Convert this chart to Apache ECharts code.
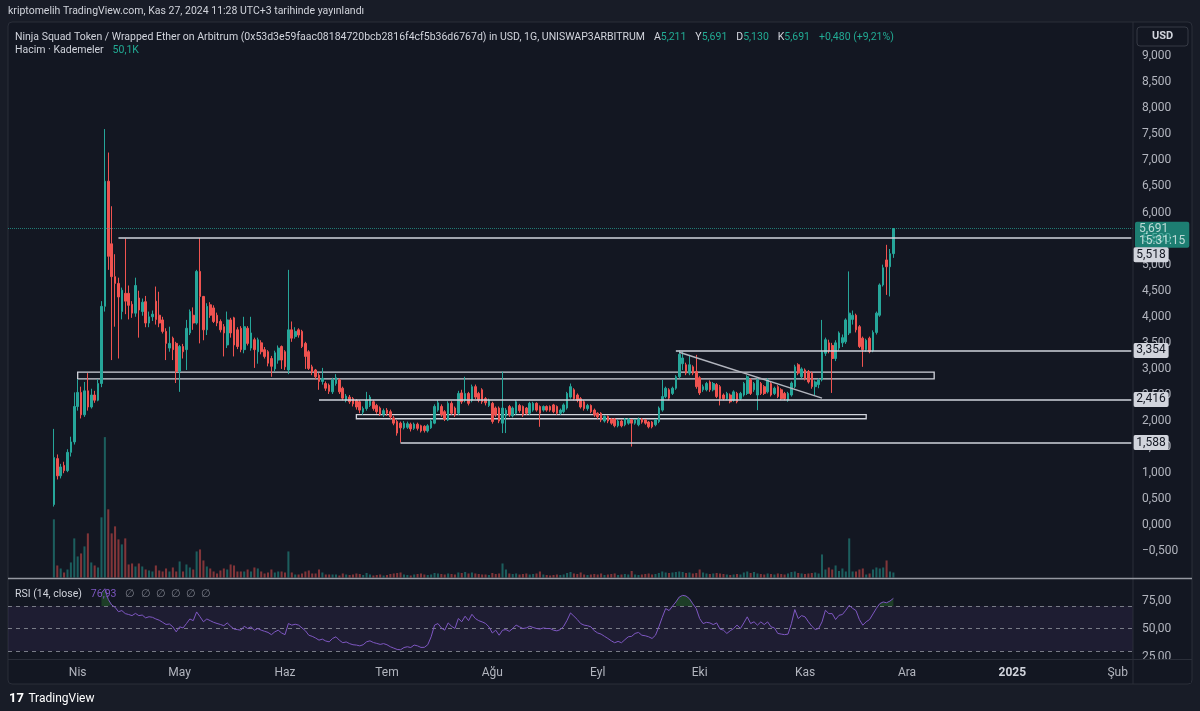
<!DOCTYPE html>
<html>
<head>
<meta charset="utf-8">
<title>NINJA / WETH</title>
<script src="https://cdn.jsdelivr.net/npm/echarts@6/dist/echarts.min.js"></script>
<style>
  html, body { margin: 0; padding: 0; background: #181c27; }
  #chart { width: 1200px; height: 711px; }
</style>
</head>
<body>
<div id="chart"></div>
<script>
// gün ekseni: 12 Mart 2024'ten itibaren 331 gün
const firstDay = Date.UTC(2024, 2, 12);
const dayCount = 331;
const monthNames = ['Oca', 'Şub', 'Mar', 'Nis', 'May', 'Haz', 'Tem', 'Ağu', 'Eyl', 'Eki', 'Kas', 'Ara'];

// mumlar [açılış, kapanış, düşük, yüksek], 25 Mart 2024'ten başlar
const candleStartDate = '2024-03-25';
const candles = [
  [0.40,1.30,0.36,1.85],[1.28,0.95,0.88,1.36],[0.95,1.12,0.90,1.18],[1.15,1.05,1.00,1.22],[1.05,1.40,1.02,1.46],
  [1.40,1.60,1.32,1.70],[1.60,2.28,1.55,2.55],[2.28,2.55,2.20,2.80],[2.55,2.12,2.05,2.66],[2.12,2.58,2.08,2.75],
  [2.58,2.27,2.20,2.92],[2.27,2.50,2.24,2.62],[2.50,2.40,2.35,2.58],[2.40,2.72,2.38,2.80],[2.72,4.20,2.65,4.30],
  [4.20,6.60,4.10,7.60],[6.60,5.16,4.90,7.15],[5.40,4.77,3.17,6.12],[4.77,4.64,3.81,5.20],[4.64,4.38,3.20,4.75],
  [4.10,4.51,3.95,4.56],[4.45,4.30,4.05,5.50],[4.45,4.22,3.95,4.60],[4.24,4.07,3.98,4.30],[4.07,4.60,4.00,4.75],
  [4.36,4.13,3.60,4.50],[4.10,4.28,4.02,4.35],[4.29,3.88,3.80,4.40],[3.88,4.00,3.80,4.10],[4.00,4.05,3.92,4.12],
  [4.30,3.95,3.85,4.58],[4.03,3.88,3.80,4.48],[3.94,3.72,3.68,4.00],[3.72,3.49,3.17,3.78],[3.40,3.49,3.33,3.81],
  [3.59,3.37,3.17,3.62],[3.49,2.95,2.73,3.52],[2.95,3.43,2.56,3.46],[3.43,3.33,3.20,3.48],[3.37,3.78,2.98,3.94],
  [3.69,4.10,3.65,4.14],[4.03,3.88,3.75,4.18],[3.88,4.87,3.85,4.90],[4.87,4.39,3.49,5.51],[4.39,3.75,3.55,4.40],
  [3.75,4.20,3.65,4.26],[4.23,4.03,3.98,4.28],[4.17,3.91,3.88,4.22],[4.03,3.88,3.82,4.08],[3.91,3.75,3.70,3.95],
  [3.81,3.69,3.24,3.86],[3.46,3.94,3.40,4.10],[3.94,3.69,3.60,3.98],[3.98,3.46,3.24,4.00],[3.75,3.43,3.38,3.80],
  [3.78,3.37,3.32,3.82],[3.37,3.81,3.30,4.00],[3.78,3.49,3.45,3.82],[3.40,3.69,3.35,4.00],[3.56,3.37,3.02,3.60],
  [3.33,3.56,3.10,3.60],[3.50,3.33,3.28,3.55],[3.37,3.24,3.20,3.42],[3.33,3.11,3.05,3.36],[3.20,3.05,2.85,3.25],
  [3.00,3.31,2.95,3.35],[3.17,3.40,3.10,3.45],[3.43,3.17,3.00,3.45],[3.33,3.04,2.98,3.36],[2.98,3.75,2.90,4.90],
  [3.75,3.59,3.52,3.91],[3.62,3.72,3.58,3.80],[3.75,3.65,3.60,3.78],[3.72,3.43,3.40,3.75],[3.49,3.24,3.00,3.52],
  [3.33,3.01,2.98,3.36],[3.04,2.94,2.88,3.08],[2.98,2.85,2.80,3.00],[2.88,2.76,2.60,2.92],[2.76,2.82,2.70,3.02],
  [2.72,2.63,2.58,2.76],[2.69,2.57,2.52,2.72],[2.56,2.79,2.52,2.83],[2.72,2.83,2.68,2.90],[2.79,2.56,2.52,2.82],
  [2.63,2.44,2.40,2.66],[2.40,2.48,2.36,2.52],[2.46,2.37,2.33,2.50],[2.43,2.33,2.28,2.46],[2.40,2.27,2.22,2.42],
  [2.37,2.21,2.15,2.40],[2.17,2.24,2.12,2.28],[2.24,2.40,2.20,2.56],[2.30,2.46,2.27,2.50],[2.37,2.24,2.20,2.40],
  [2.30,2.18,2.14,2.33],[2.25,2.13,2.10,2.28],[2.13,2.20,2.08,2.24],[2.21,2.15,2.10,2.25],[2.18,2.08,2.04,2.22],
  [2.06,1.96,1.92,2.10],[1.99,1.77,1.72,2.02],[1.96,1.87,1.588,1.99],[1.87,1.96,1.84,2.00],[1.88,1.95,1.85,1.99],
  [1.94,1.85,1.80,1.97],[1.86,1.94,1.83,1.97],[1.94,1.86,1.82,1.97],[1.91,1.81,1.78,1.93],[1.90,1.82,1.78,1.92],
  [1.81,1.91,1.78,1.94],[1.87,2.00,1.85,2.04],[1.96,2.28,1.94,2.32],[2.21,2.35,2.18,2.40],[2.28,2.12,2.08,2.32],
  [2.18,2.04,2.00,2.21],[2.02,2.34,2.00,2.38],[2.34,2.15,2.12,2.38],[2.25,2.12,2.08,2.28],[2.15,2.53,2.12,2.58],
  [2.54,2.37,2.33,2.60],[2.40,2.53,2.36,2.85],[2.53,2.34,2.30,2.56],[2.40,2.66,2.36,2.70],[2.66,2.46,2.42,2.70],
  [2.53,2.40,2.36,2.56],[2.60,2.37,2.33,2.63],[2.43,2.35,2.30,2.46],[2.30,2.40,2.27,2.43],[2.34,1.99,1.95,2.37],
  [2.25,2.12,2.08,2.28],[2.25,2.00,1.96,2.28],[1.96,2.25,1.77,2.95],[2.10,2.21,1.77,2.25],[2.28,2.12,2.08,2.31],
  [2.10,2.25,2.07,2.28],[2.15,2.37,2.12,2.40],[2.30,2.20,2.16,2.33],[2.28,2.12,2.08,2.30],[2.25,2.15,2.12,2.27],
  [2.15,2.34,2.12,2.37],[2.21,2.34,2.18,2.37],[2.34,2.21,2.18,2.36],[2.28,2.15,1.89,2.30],[2.21,2.28,2.18,2.30],
  [2.28,2.21,2.18,2.30],[2.28,2.21,2.18,2.30],[2.31,2.18,2.15,2.33],[2.28,2.15,2.12,2.30],[2.15,2.21,2.12,2.24],
  [2.18,2.31,2.15,2.34],[2.25,2.53,2.22,2.56],[2.46,2.66,2.43,2.72],[2.60,2.43,2.40,2.63],[2.50,2.40,2.36,2.53],
  [2.43,2.27,2.24,2.46],[2.37,2.24,2.20,2.40],[2.24,2.30,2.20,2.33],[2.30,2.18,2.15,2.32],[2.21,2.12,2.08,2.24],
  [2.15,2.08,2.04,2.17],[2.15,2.02,1.98,2.17],[2.00,2.09,1.97,2.11],[2.09,2.00,1.96,2.11],[2.04,1.96,1.93,2.06],
  [2.04,1.91,1.88,2.06],[1.91,2.00,1.88,2.03],[2.00,1.91,1.88,2.03],[1.93,2.04,1.90,2.06],[1.96,2.04,1.93,2.06],
  [2.02,1.96,1.51,2.04],[1.96,2.02,1.93,2.04],[1.93,2.04,1.90,2.07],[2.04,1.98,1.95,2.06],[2.02,1.96,1.93,2.04],
  [1.98,1.89,1.86,2.00],[1.98,1.89,1.86,2.00],[1.93,2.02,1.90,2.04],[1.99,2.25,1.96,2.28],[2.21,2.47,2.18,2.79],
  [2.47,2.63,2.44,2.66],[2.60,2.44,2.40,2.63],[2.53,2.63,2.50,2.66],[2.63,2.85,2.60,2.88],[2.85,3.28,2.82,3.354],
  [3.10,3.21,2.98,3.33],[3.08,2.92,2.88,3.12],[2.92,3.08,2.88,3.27],[3.04,2.92,2.88,3.07],[2.95,2.66,2.62,3.27],
  [2.83,2.54,2.50,2.86],[2.60,2.66,2.56,2.70],[2.60,2.72,2.57,2.75],[2.75,2.60,2.56,2.78],[2.60,2.72,2.57,2.75],
  [2.70,2.47,2.44,2.73],[2.66,2.43,2.30,2.69],[2.50,2.43,2.40,2.53],[2.43,2.53,2.40,2.56],[2.50,2.37,2.34,2.53],
  [2.40,2.56,2.37,2.59],[2.53,2.37,2.34,2.56],[2.43,2.53,2.40,2.56],[2.50,2.72,2.47,2.75],[2.53,2.85,2.50,2.88],
  [2.79,2.53,2.50,2.82],[2.60,2.72,2.56,2.75],[2.50,2.79,2.21,2.82],[2.72,2.53,2.50,2.75],[2.66,2.53,2.50,2.69],
  [2.56,2.79,2.53,2.82],[2.72,2.50,2.47,2.75],[2.53,2.63,2.50,2.66],[2.66,2.47,2.44,2.69],[2.60,2.43,2.40,2.63],
  [2.53,2.43,2.40,2.56],[2.40,2.53,2.37,2.56],[2.50,2.73,2.47,2.76],[2.66,3.04,2.63,3.08],[3.08,2.92,2.88,3.11],
  [2.85,3.00,2.82,3.03],[2.98,2.82,2.78,3.01],[2.95,2.75,2.72,2.98],[2.92,2.66,2.62,2.95],[2.66,2.75,2.50,2.78],
  [2.70,2.79,2.63,2.82],[2.79,3.33,2.76,3.94],[3.30,3.56,3.25,3.60],[3.50,3.35,3.30,3.56],[3.45,3.20,2.54,3.50],
  [3.20,3.50,3.15,3.55],[3.40,3.69,3.35,3.72],[3.50,3.60,3.42,3.66],[3.52,3.94,3.48,3.97],[3.69,4.07,3.65,4.87],
  [3.95,4.03,3.85,4.12],[4.03,3.75,3.70,4.06],[3.81,3.43,3.40,3.84],[3.59,3.37,3.04,3.62],[3.37,3.55,3.33,3.58],
  [3.59,3.33,3.30,3.62],[3.35,3.70,3.32,3.74],[3.70,4.07,3.66,4.10],[4.03,4.61,4.00,4.64],[4.61,4.94,4.58,5.00],
  [5.09,4.96,4.42,5.38],[4.96,5.21,4.39,5.30],[5.211,5.691,5.130,5.691]
];

// hacim (bin), mumlarla aynı günler
const volumes = [
  580,120,90,50,80,150,390,210,240,310,
  440,150,120,100,600,1400,680,440,510,380,
  330,390,130,140,110,140,110,80,70,60,
  120,70,60,90,60,100,60,160,60,130,
  100,80,260,280,170,110,90,60,40,70,
  90,80,130,120,60,60,60,80,60,100,
  90,60,40,50,80,50,60,60,50,260,
  50,30,30,40,60,70,40,40,80,50,
  30,30,30,30,20,40,30,25,30,40,
  35,25,45,30,20,25,30,20,25,35,
  40,45,50,30,25,20,30,35,40,30,
  25,30,45,40,35,30,40,35,30,50,
  45,55,40,50,40,35,30,30,25,45,
  35,40,140,80,40,35,40,30,35,40,
  30,35,40,60,30,25,20,25,30,25,
  30,45,55,40,35,50,30,25,30,35,
  30,40,25,30,35,40,25,30,35,30,
  65,30,25,30,35,40,30,35,45,60,
  50,45,50,55,60,55,45,50,40,45,
  80,50,40,35,40,45,40,35,30,25,
  30,35,30,50,60,45,55,40,35,30,
  40,35,30,40,35,30,40,55,60,45,
  40,35,40,45,50,40,230,80,100,80,
  120,65,90,60,390,60,60,80,90,30,
  40,80,100,90,100,170,60,50.1
];

// RSI (14, close), 8 Nisan 2024'ten başlar
const rsiStartDate = '2024-04-08';
const rsi = [
  81.7,85.5,76,71,69,65,66,63.3,62.5,61.5,
  63.5,61.5,62,59.5,60.5,60,58.5,57.4,55.5,53.6,
  54,51.5,47,51.5,50.5,54.4,58.5,57,64.8,60.5,
  56,58.5,57,55.5,54.5,53.6,52.5,55,52,49.5,
  49,48.5,52,50,51.5,48.5,50,48.5,47.5,46.5,
  44.5,47,48.5,46,44.5,54.4,53,53.8,53,50.5,
  48,44,43,41.5,39.6,40.5,38.8,38.1,41.1,42.6,
  39.5,37.3,38,36.5,35.5,35.2,34.5,35.5,38.1,39,
  37.5,36.7,35.8,36.5,35.5,33.7,32.5,31.3,31,33,
  33.7,33,35.2,34.5,33.1,33.2,35.5,42.6,53,54.4,
  50.5,48.5,55,52,50,58.9,56,61,57,62.7,
  58.9,57,55.9,54.5,51.5,46,48.5,44,48.5,49,
  47.5,50,53,51.5,50,50.5,52,50.9,50,49.5,
  50.5,50,50,48.5,47.9,49,52,57.4,63.9,61,
  58,54.4,53,52.5,51.5,48,46,45,43,41.1,
  39,37.3,38.5,37.3,40,42.6,43,45.6,46.5,44,
  43.5,42.6,41.1,44,51.5,60,67.8,66,69.9,73.7,
  78.1,79.6,79,76.6,72,67.8,58.9,54.4,55.5,55,
  53.5,55,49.5,48.5,45.6,48,50,53,50,55,
  60.4,54.4,56,53,55.9,53.5,55.9,51.5,50.5,45.6,
  45,44.5,45,54.4,66.9,58.9,61.5,60.4,56,52,
  49.1,50,55.9,66.3,63.3,63.3,58,61.8,62.5,66.3,
  70.7,68,66,58,53,56,58,63,68,72.2,
  73.7,73,74.5,76.93
];

// çizimler: yatay seviyeler, kutular, trend çizgisi
const levels = [
  { price: 5.518, from: '2024-04-13', tag: '5,518' },
  { price: 3.354, from: '2024-09-24', tag: '3,354' },
  { price: 2.416, from: '2024-06-11', tag: '2,416' },
  { price: 1.588, from: '2024-07-05', tag: '1,588' }
];
const boxes = [
  { from: '2024-04-01', to: '2024-12-09', top: 2.94, bottom: 2.81 },
  { from: '2024-06-22', to: '2024-11-19', top: 2.125, bottom: 2.045 }
];
const trendLine = [['2024-09-25', 3.32], ['2024-11-06', 2.44]];
const lastPrice = 5.691;

const UP = '#26a69a';
const DOWN = '#ef5350';
const TEXT = '#b2b5be';
const FONT = "Roboto, 'Noto Sans', sans-serif";

const dates = [];
for (let i = 0; i < dayCount; i++) {
  dates.push(new Date(firstDay + i * 86400000).toISOString().slice(0, 10));
}
const candleStart = dates.indexOf(candleStartDate);
const rsiStart = dates.indexOf(rsiStartDate);
const lastDate = dates[dates.length - 1];

const candleData = candles.map((c, i) => [dates[candleStart + i], c[0], c[1], c[2], c[3]]);
const volumeData = volumes.map((v, i) => ({
  value: [dates[candleStart + i], v],
  itemStyle: { color: candles[i][1] >= candles[i][0] ? 'rgba(38,166,154,0.5)' : 'rgba(239,83,80,0.5)' }
}));
const rsiData = rsi.map((v, i) => [dates[rsiStart + i], v]);
const rsiHot = rsi.map((v, i) => [dates[rsiStart + i], v > 70 ? v : '-']);

const priceFmt = v => (v < 0 ? '−' : '') + Math.abs(v).toFixed(3).replace('.', ',');
const tagLabel = (text, dy) => ({
  show: true, position: 'end', distance: 2, formatter: text,
  backgroundColor: '#d1d4dc', color: '#131722', fontSize: 12, fontFamily: FONT,
  padding: [2, 3, 1, 3], borderRadius: 2, offset: [0, dy]
});

const levelLines = levels.map((l, i) => [
  { coord: [l.from, l.price], lineStyle: { color: '#d1d4dc', width: 1.5, type: 'solid' },
    label: tagLabel(l.tag, i === 0 ? 17 : 0) },
  { coord: [lastDate, l.price] }
]);

// legend yazıları için ortak stil
const txt = (color, size) => ({ color: color, fontSize: size || 10.5, fontWeight: 'normal', fontFamily: FONT });

const myChart = echarts.init(document.getElementById('chart'));
const option = {
  backgroundColor: '#181c27',
  animation: false,
  textStyle: { fontFamily: FONT },
  title: [
    {
      text: 'kriptomelih TradingView.com, Kas 27, 2024 11:28 UTC+3 tarihinde yayınlandı',
      left: 8, top: 6, padding: 0,
      textStyle: txt('#d1d4dc', 10.5)
    },
    {
      text: '{t|Ninja Squad Token / Wrapped Ether on Arbitrum (0x53d3e59faac08184720bcb2816f4cf5b36d6767d) in USD, 1G, UNISWAP3ARBITRUM}  ' +
        '{t|A}{v|5,211}  {t|Y}{v|5,691}  {t|D}{v|5,130}  {t|K}{v|5,691}  {v|+0,480 (+9,21%)}',
      left: 15, top: 28, padding: 0,
      textStyle: { fontWeight: 'normal', rich: { t: txt('#d1d4dc'), v: txt('#22ab94') } }
    },
    {
      text: '{t|Hacim · Kademeler}  {v|50,1K}',
      left: 15, top: 41, padding: 0,
      textStyle: { fontWeight: 'normal', rich: { t: txt('#d1d4dc'), v: txt('#22ab94') } }
    },
    {
      text: '{t|RSI (14, close)}  {v|76,93}  {n|∅  ∅  ∅  ∅  ∅  ∅}',
      left: 15, top: 585, padding: 0,
      textStyle: { fontWeight: 'normal', rich: { t: txt('#d1d4dc'), v: txt('#7e57c2'), n: txt('#787b86') } }
    },
    {
      text: '{l|17} {t|TradingView}',
      left: 9, top: 690, padding: 0,
      textStyle: { rich: {
        l: { color: '#ffffff', fontSize: 13, fontWeight: 'bold' },
        t: { color: '#ffffff', fontSize: 12, fontWeight: 'normal' }
      } }
    }
  ],
  graphic: [
    { type: 'rect', z: -10, silent: true, shape: { x: 8, y: 22, width: 1184, height: 662, r: 4 },
      style: { fill: '#131722', stroke: '#2a2e39', lineWidth: 1 } },
    { type: 'rect', z: 100, silent: true, shape: { x: 1134, y: 660, width: 57, height: 23 },
      style: { fill: '#131722' } },
    { type: 'line', z: 100, silent: true, shape: { x1: 1133, y1: 22, x2: 1133, y2: 684 },
      style: { stroke: '#2a2e39', lineWidth: 1 } },
    { type: 'line', z: 100, silent: true, shape: { x1: 8, y1: 578.5, x2: 1192, y2: 578.5 },
      style: { stroke: '#9598a1', lineWidth: 1.5 } },
    { type: 'line', z: 100, silent: true, shape: { x1: 8, y1: 659.5, x2: 1192, y2: 659.5 },
      style: { stroke: '#2a2e39', lineWidth: 1 } },
    { type: 'rect', z: 100, silent: true, shape: { x: 1137, y: 27, width: 51, height: 19, r: 3 },
      style: { fill: '#131722', stroke: '#363a45', lineWidth: 1 } },
    { type: 'text', z: 101, silent: true, x: 1162.5, y: 36.5,
      style: { text: 'USD', fill: '#d1d4dc', font: 'bold 11px ' + FONT, align: 'center', verticalAlign: 'middle' } }
  ],
  grid: [
    { left: 8, right: 67, top: 30, height: 547.5 },
    { left: 8, right: 67, top: 572.5, height: 84 }
  ],
  xAxis: [
    {
      type: 'category', gridIndex: 0, data: dates, boundaryGap: true,
      axisLine: { show: false }, axisTick: { show: false }, axisLabel: { show: false }, splitLine: { show: false }
    },
    {
      type: 'category', gridIndex: 1, data: dates, boundaryGap: true,
      axisLine: { show: false }, axisTick: { show: false }, splitLine: { show: false },
      axisLabel: {
        color: TEXT, fontSize: 12, margin: 10,
        interval: (idx, val) => val.slice(8) === '01',
        formatter: val => {
          const m = +val.slice(5, 7);
          return m === 1 ? '{y|' + val.slice(0, 4) + '}' : monthNames[m - 1];
        },
        rich: { y: { color: '#d1d4dc', fontWeight: 'bold', fontSize: 12 } }
      }
    }
  ],
  yAxis: [
    {
      type: 'value', gridIndex: 0, position: 'right', min: -1, max: 9.5, interval: 0.5,
      axisLine: { show: false }, axisTick: { show: false }, splitLine: { show: false },
      axisLabel: {
        color: TEXT, fontSize: 12, margin: 9,
        formatter: v => (v <= -1 || v >= 9.5) ? '' : priceFmt(v)
      }
    },
    { type: 'value', gridIndex: 0, min: 0, max: 5460, show: false },
    {
      type: 'value', gridIndex: 1, position: 'right', min: 25, max: 100, interval: 25,
      axisLine: { show: false }, axisTick: { show: false }, splitLine: { show: false },
      axisLabel: {
        color: TEXT, fontSize: 12, margin: 9,
        formatter: v => v >= 100 ? '' : v.toFixed(2).replace('.', ',')
      }
    }
  ],
  series: [
    {
      name: 'Hacim',
      type: 'bar', xAxisIndex: 0, yAxisIndex: 1,
      barWidth: '60%',
      data: volumeData,
      z: 1
    },
    {
      name: 'NINJA/WETH',
      type: 'candlestick', xAxisIndex: 0, yAxisIndex: 0,
      barWidth: '62%',
      encode: { x: 0, y: [1, 2, 3, 4] },
      data: candleData,
      itemStyle: { color: UP, color0: DOWN, borderColor: UP, borderColor0: DOWN, borderWidth: 1 },
      markArea: {
        silent: true,
        itemStyle: { color: 'rgba(0,0,0,0)', borderColor: '#d1d4dc', borderWidth: 1.3 },
        data: boxes.map(b => [{ coord: [b.from, b.top] }, { coord: [b.to, b.bottom] }])
      },
      markLine: {
        silent: true,
        symbol: ['none', 'none'],
        animation: false,
        data: [
          {
            yAxis: lastPrice,
            lineStyle: { color: '#26a69a', type: 'dotted', width: 1, opacity: 0.7 },
            label: {
              show: true, position: 'end', distance: 2,
              formatter: '5,691\n15:31:15',
              backgroundColor: '#22ab94', color: '#ffffff', fontSize: 12, lineHeight: 12,
              padding: [1, 4, 1, 4], borderRadius: 2, offset: [0, 6]
            }
          },
          ...levelLines,
          [
            { coord: trendLine[0], lineStyle: { color: '#b2b5be', width: 1.5, type: 'solid' }, label: { show: false } },
            { coord: trendLine[1] }
          ]
        ]
      }
    },
    {
      name: 'RSI',
      type: 'line', xAxisIndex: 1, yAxisIndex: 2,
      data: rsiData,
      symbol: 'none',
      lineStyle: { color: '#7e57c2', width: 1 },
      z: 5,
      markArea: {
        silent: true,
        itemStyle: { color: 'rgba(126,87,194,0.1)' },
        data: [[{ yAxis: 30 }, { yAxis: 70 }]]
      },
      markLine: {
        silent: true,
        symbol: ['none', 'none'],
        label: { show: false },
        lineStyle: { color: '#787b86', type: [4, 4], width: 1 },
        data: [{ yAxis: 70 }, { yAxis: 50 }, { yAxis: 30 }]
      }
    },
    {
      name: 'RSI aşırı alım',
      type: 'line', xAxisIndex: 1, yAxisIndex: 2,
      data: rsiHot,
      symbol: 'none',
      lineStyle: { width: 0 },
      areaStyle: { color: 'rgba(46,125,50,0.55)', origin: 70 },
      z: 4
    }
  ]
};
myChart.setOption(option);
</script>
</body>
</html>
